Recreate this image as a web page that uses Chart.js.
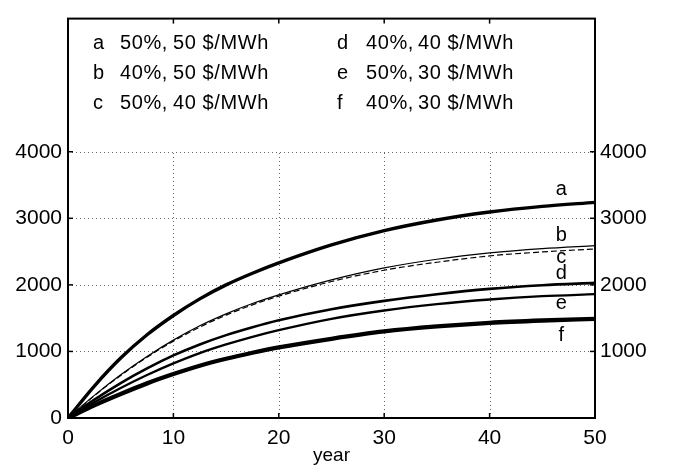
<!DOCTYPE html>
<html>
<head>
<meta charset="utf-8">
<script src="https://cdn.jsdelivr.net/npm/chart.js@4.4.1/dist/chart.umd.min.js"></script>
<style>
  html, body { margin: 0; padding: 0; background: #fff; }
  #wrap { width: 673px; height: 467px; }
</style>
</head>
<body>
<div id="wrap"><canvas id="c" width="673" height="467"></canvas></div>
<script>
// ---- data ----
const years   = [0, 2.5, 5, 7.5, 10, 12.5, 15, 17.5, 20, 25, 30, 35, 40, 45, 50];
const seriesA = [0, 480, 900, 1250, 1540, 1790, 2000, 2175, 2330, 2600, 2815, 2975, 3095, 3180, 3240];
const seriesB = [0, 340, 650, 925, 1170, 1385, 1565, 1720, 1850, 2075, 2255, 2385, 2480, 2545, 2590];
const seriesC = [0, 335, 640, 912, 1155, 1365, 1545, 1700, 1830, 2050, 2220, 2340, 2435, 2495, 2540];
const seriesD = [0, 275, 525, 745, 940, 1105, 1245, 1365, 1470, 1635, 1760, 1860, 1940, 1995, 2030];
const seriesE = [0, 235, 450, 645, 820, 975, 1105, 1220, 1320, 1490, 1615, 1710, 1780, 1830, 1860];
const seriesF = [0, 190, 360, 520, 660, 785, 890, 980, 1060, 1190, 1300, 1375, 1430, 1465, 1490];
const curveLetters = ['a', 'b', 'c', 'd', 'e', 'f'];
const shares = ['50%,', '40%,', '50%,', '40%,', '50%,', '40%,'];
const prices = ['50 $/MWh', '50 $/MWh', '40 $/MWh', '40 $/MWh', '30 $/MWh', '30 $/MWh'];
const xTicks = [0, 10, 20, 30, 40, 50];
const yTicksLeft = [0, 1000, 2000, 3000, 4000];
const yTicksRight = [1000, 2000, 3000, 4000];
const xTitle = 'year';

const allSeries = [seriesA, seriesB, seriesC, seriesD, seriesE, seriesF];

// ---- styles ----
const lineWidths = [3.4, 1.2, 1.2, 2.6, 2.3, 4.3];
const dashes = [[], [], [6, 3], [], [], []];
const labelOffsetsPx = [-13, -10, 9, -9, 9, 17];
const FONT = '"Liberation Sans", Arial, Helvetica, sans-serif';

const datasets = allSeries.map((s, i) => ({
  label: curveLetters[i],
  data: years.map((yr, k) => ({ x: yr, y: s[k] })),
  borderColor: '#000',
  backgroundColor: '#000',
  borderWidth: lineWidths[i],
  borderDash: dashes[i],
  pointRadius: 0,
  showLine: true,
  fill: false,
  cubicInterpolationMode: 'monotone'
}));

const decor = {
  id: 'decor',
  beforeDatasetsDraw(chart) {
    const { ctx, chartArea: a, scales: { x, y } } = chart;
    ctx.save();
    ctx.strokeStyle = '#666';
    ctx.lineWidth = 1;
    ctx.setLineDash([1, 3]);
    const yTop = y.getPixelForValue(yTicksLeft[yTicksLeft.length - 1]);
    xTicks.slice(1, -1).forEach(v => {
      const px = Math.round(x.getPixelForValue(v)) + 0.5;
      ctx.beginPath(); ctx.moveTo(px, a.bottom); ctx.lineTo(px, yTop); ctx.stroke();
    });
    yTicksRight.forEach(v => {
      const py = Math.round(y.getPixelForValue(v)) + 0.5;
      ctx.beginPath(); ctx.moveTo(a.left, py); ctx.lineTo(a.right, py); ctx.stroke();
    });
    ctx.restore();
  },
  afterDatasetsDraw(chart) {
    const { ctx, chartArea: a, scales: { x, y } } = chart;
    ctx.save();
    // frame
    ctx.setLineDash([]);
    ctx.strokeStyle = '#000';
    ctx.lineWidth = 2;
    ctx.strokeRect(a.left, a.top, a.right - a.left, a.bottom - a.top);
    // inward ticks
    ctx.lineWidth = 1.5;
    const tl = 5;
    xTicks.slice(1, -1).forEach(v => {
      const px = x.getPixelForValue(v);
      ctx.beginPath(); ctx.moveTo(px, a.bottom); ctx.lineTo(px, a.bottom - tl); ctx.stroke();
      ctx.beginPath(); ctx.moveTo(px, a.top); ctx.lineTo(px, a.top + tl); ctx.stroke();
    });
    yTicksRight.forEach(v => {
      const py = y.getPixelForValue(v);
      ctx.beginPath(); ctx.moveTo(a.left, py); ctx.lineTo(a.left + tl, py); ctx.stroke();
      ctx.beginPath(); ctx.moveTo(a.right, py); ctx.lineTo(a.right - tl, py); ctx.stroke();
    });
    // legend text
    ctx.fillStyle = '#000';
    ctx.font = '20px ' + FONT;
    ctx.textBaseline = 'middle';
    ctx.textAlign = 'left';
    try { ctx.letterSpacing = '0.6px'; } catch (e) {}
    const colX = [[93, 120, 173], [337, 366, 418]];
    const rowY = [43, 73, 103];
    curveLetters.forEach((L, i) => {
      const col = Math.floor(i / 3), row = i % 3;
      const cx = colX[col];
      ctx.fillText(L, cx[0], rowY[row]);
      ctx.fillText(shares[i], cx[1], rowY[row]);
      ctx.fillText(prices[i], cx[2], rowY[row]);
    });
    try { ctx.letterSpacing = '0px'; } catch (e) {}
    // curve labels near the right end
    ctx.font = '20px ' + FONT;
    ctx.textAlign = 'center';
    const lx = x.getPixelForValue(46.8);
    allSeries.forEach((s, i) => {
      const py = y.getPixelForValue(s[s.length - 1]) + labelOffsetsPx[i];
      ctx.fillText(curveLetters[i], lx, py);
    });
    ctx.restore();
  }
};

new Chart(document.getElementById('c'), {
  type: 'scatter',
  data: { datasets },
  options: {
    responsive: false,
    devicePixelRatio: 1,
    animation: false,
    layout: { padding: { top: 4, right: 0, left: 0, bottom: 0 } },
    plugins: { legend: { display: false }, tooltip: { enabled: false } },
    scales: {
      x: {
        type: 'linear', position: 'bottom', min: 0, max: 50,
        afterBuildTicks: s => { s.ticks = xTicks.map(v => ({ value: v })); },
        afterFit: s => { s.height = 49; },
        grid: { display: false, drawTicks: false },
        border: { display: false },
        ticks: { color: '#000', font: { family: FONT, size: 21 }, padding: 8, maxRotation: 0 },
        title: { display: true, text: xTitle, color: '#000', font: { family: FONT, size: 19 }, padding: { top: 0, bottom: 0 } }
      },
      y: {
        type: 'linear', position: 'left', min: 0, max: 6000,
        afterBuildTicks: s => { s.ticks = yTicksLeft.map(v => ({ value: v })); },
        afterFit: s => { s.width = 68; },
        grid: { display: false, drawTicks: false },
        border: { display: false },
        ticks: { color: '#000', font: { family: FONT, size: 21 }, padding: 6, callback: v => String(v) }
      },
      y2: {
        type: 'linear', position: 'right', min: 0, max: 6000,
        afterBuildTicks: s => { s.ticks = yTicksRight.map(v => ({ value: v })); },
        afterFit: s => { s.width = 78; },
        grid: { display: false, drawTicks: false },
        border: { display: false },
        ticks: { color: '#000', font: { family: FONT, size: 21 }, padding: 5, callback: v => String(v) }
      }
    }
  },
  plugins: [decor]
});
</script>
</body>
</html>
